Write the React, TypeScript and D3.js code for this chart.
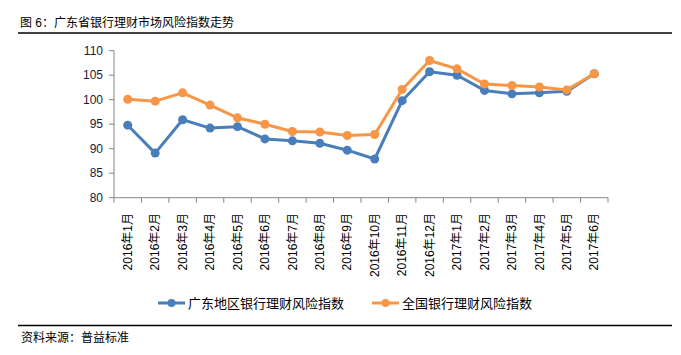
import React from "react";
import * as d3 from "d3";

const categories = [
  "2016年1月", "2016年2月", "2016年3月", "2016年4月", "2016年5月", "2016年6月",
  "2016年7月", "2016年8月", "2016年9月", "2016年10月", "2016年11月", "2016年12月",
  "2017年1月", "2017年2月", "2017年3月", "2017年4月", "2017年5月", "2017年6月",
];
const guangdong = [94.8, 89.1, 95.9, 94.2, 94.5, 92.0, 91.6, 91.1, 89.7, 87.9, 99.8, 105.7, 105.0, 101.9, 101.2, 101.4, 101.7, 105.3];
const national = [100.1, 99.7, 101.4, 98.9, 96.3, 95.0, 93.5, 93.4, 92.7, 92.9, 102.1, 108.0, 106.3, 103.2, 102.9, 102.6, 102.0, 105.3];
const yTicks = [80, 85, 90, 95, 100, 105, 110];
const seriesNames = ["广东地区银行理财风险指数", "全国银行理财风险指数"];
const title = "图 6：广东省银行理财市场风险指数走势";
const source = "资料来源：普益标准";

const W = 681, H = 355;
const FONT = "'Liberation Sans', 'Noto Sans CJK SC', sans-serif";
const BLUE = "#4A7EBB";
const ORANGE = "#F79646";
const AXIS = "#868686";

export default function App() {
  const x = d3.scaleBand<string>().domain(categories).range([114, 608]);
  const y = d3.scaleLinear().domain([80, 110]).range([197.7, 50.7]);
  const cx = (c: string) => (x(c) as number) + x.bandwidth() / 2;
  const line = d3.line<number>().x((_, i) => cx(categories[i])).y((v) => y(v));
  const series = [
    { name: seriesNames[0], data: guangdong, color: BLUE },
    { name: seriesNames[1], data: national, color: ORANGE },
  ];
  const edges = categories.map((c) => x(c) as number).concat([608]);
  const legendX = [158, 372];
  return (
    <svg width={W} height={H} style={{ position: "absolute", left: 0, top: 0, background: "#fff" }} fontFamily={FONT}>
      <text x={20} y={27} fontSize={12} fill="#000">{title}</text>
      <line x1={18} x2={672} y1={33} y2={33} stroke="#000" strokeWidth={1.3} />
      {/* y axis */}
      <line x1={114} x2={114} y1={y(110)} y2={y(80)} stroke={AXIS} />
      {yTicks.map((t) => (
        <g key={t}>
          <line x1={109} x2={114} y1={y(t)} y2={y(t)} stroke={AXIS} />
          <text x={103} y={y(t)} dy="0.35em" textAnchor="end" fontSize={12} fill="#1a1a3a">{t}</text>
        </g>
      ))}
      {/* x axis */}
      <line x1={114} x2={608} y1={y(80)} y2={y(80)} stroke={AXIS} />
      {edges.map((e, i) => (
        <line key={i} x1={e} x2={e} y1={y(80)} y2={y(80) + 5} stroke={AXIS} />
      ))}
      {categories.map((c) => (
        <text key={c} transform={`translate(${cx(c)},213) rotate(-90)`} textAnchor="end" dy="0.35em" fontSize={12} fill="#000">{c}</text>
      ))}
      {series.map((s) => (
        <g key={s.name}>
          <path d={line(s.data) || ""} fill="none" stroke={s.color} strokeWidth={3} strokeLinejoin="round" />
          {s.data.map((v, i) => (
            <circle key={i} cx={cx(categories[i])} cy={y(v)} r={4.5} fill={s.color} />
          ))}
        </g>
      ))}
      {/* legend */}
      {series.map((s, i) => (
        <g key={s.name}>
          <line x1={legendX[i]} x2={legendX[i] + 27} y1={303} y2={303} stroke={s.color} strokeWidth={3} />
          <circle cx={legendX[i] + 13.5} cy={303} r={4} fill={s.color} />
          <text x={legendX[i] + 30} y={303} dy="0.36em" fontSize={13} fill="#000">{s.name}</text>
        </g>
      ))}
      <line x1={18} x2={672} y1={325.5} y2={325.5} stroke="#000" strokeWidth={1.3} />
      <text x={21} y={342} fontSize={12} fill="#000">{source}</text>
    </svg>
  );
}
